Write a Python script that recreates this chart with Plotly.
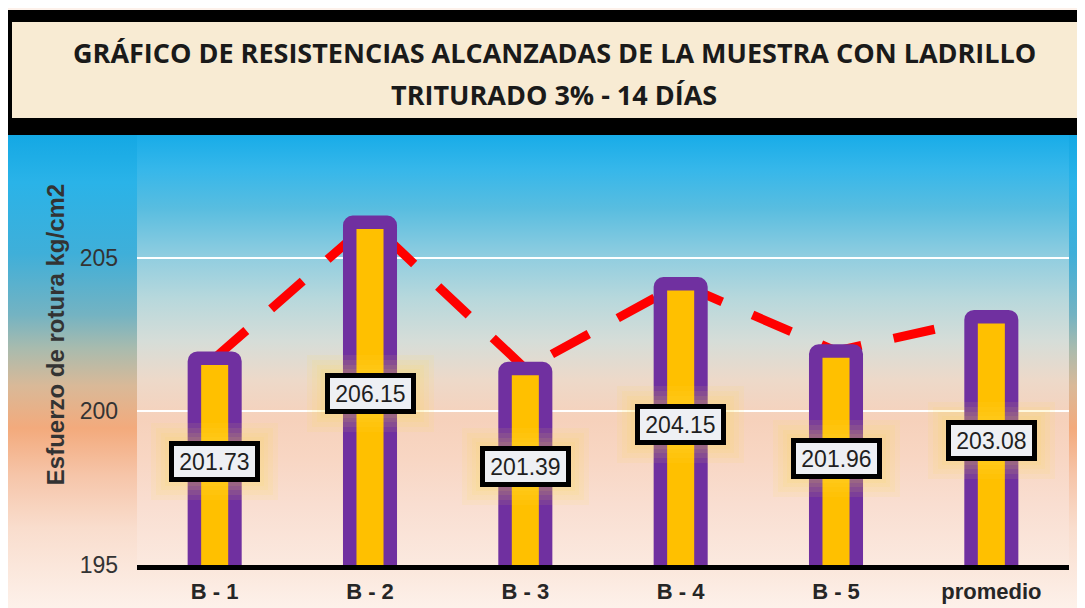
import base64
import plotly.graph_objects as go

# ---------------- data ----------------
categories = ["B - 1", "B - 2", "B - 3", "B - 4", "B - 5", "promedio"]
values = [201.73, 206.15, 201.39, 204.15, 201.96, 203.08]
y_ticks = [195, 200, 205]
y_min, y_max = 195, 210

title_line1 = "GRÁFICO DE RESISTENCIAS ALCANZADAS DE LA MUESTRA CON LADRILLO"
title_line2 = "TRITURADO 3% - 14 DÍAS"
y_title = "Esfuerzo de rotura kg/cm2"

# ---------------- geometry helpers ----------------
# the page body adds an offset; layout is designed in window pixels and shifted
OX, OY = 8, 8
W, H = 1085 - OX, 608 - OY
ML, MR, MT, MB = 137 - OX, 16, 104 - OY, 43
PW, PH = W - ML - MR, H - MT - MB


def px(x):
    """window pixel x -> paper x"""
    return (x - OX - ML) / PW


def py(y):
    """window pixel y -> paper y"""
    return (H - MB - (y - OY)) / PH


def gradient_uri(stops, w, h):
    st = "".join(f"<stop offset='{o}' stop-color='{c}'/>" for o, c in stops)
    svg = (f"<svg xmlns='http://www.w3.org/2000/svg' width='{w}' height='{h}' "
           f"viewBox='0 0 {w} {h}' preserveAspectRatio='none'>"
           f"<defs><linearGradient id='g' x1='0' y1='0' x2='0' y2='1'>{st}</linearGradient></defs>"
           f"<rect x='0' y='0' width='{w}' height='{h}' fill='url(#g)'/></svg>")
    return "data:image/svg+xml;base64," + base64.b64encode(svg.encode()).decode()


outer_stops = [(0.0, "#14A8E4"), (0.10, "#2AB3E8"), (0.25, "#3FAFD9"), (0.38, "#74B3C2"),
               (0.45, "#A8BBAE"), (0.53, "#D9B998"), (0.62, "#F3AA7C"), (0.72, "#F6C5A9"),
               (0.83, "#F9DDCD"), (1.0, "#FDF1EA")]
inner_stops = [(0.0, "#18ACE8"), (0.08, "#36B7EA"), (0.17, "#58BDE0"), (0.28, "#8FCDE0"),
               (0.38, "#B7D8DC"), (0.48, "#D6DDD8"), (0.57, "#EDD9C9"), (0.66, "#F6D1BB"),
               (0.75, "#F8D6C3"), (0.86, "#F9DED1"), (1.0, "#FBE9DF")]

fig = go.Figure()

# dashed line (drawn under the bars)
fig.add_trace(go.Scatter(
    x=categories, y=values, mode="lines", yaxis="y",
    line=dict(color="#FF0000", width=9, dash="42px,33px"),
    hoverinfo="skip", showlegend=False))

# bars on an overlaid axis so they sit above the line
fig.add_trace(go.Bar(
    x=categories, y=values, yaxis="y2", width=0.261,
    marker=dict(color="#FFC000", line=dict(color="#7030A0", width=13.5), cornerradius=3),
    showlegend=False))

annotations = []
# soft yellow glow behind the value labels
for c, v in zip(categories, values):
    for g in (18, 13, 8, 4):
        annotations.append(dict(
            x=c, y=(y_min + v) / 2, xref="x", yref="y", text=" ", showarrow=False,
            bgcolor="rgba(255,225,80,0.09)", borderwidth=0, borderpad=0,
            width=91 + 2 * g, height=41 + 2 * g))
for c, v in zip(categories, values):
    annotations.append(dict(
        x=c, y=(y_min + v) / 2, xref="x", yref="y", text=f"{v:.2f}", showarrow=False,
        font=dict(family="Liberation Sans, Arial", size=23, color="#1F1F1F"),
        bgcolor="#EEF0F4", bordercolor="#000000", borderwidth=5, borderpad=2,
        width=77, height=27))

annotations.append(dict(x=px(554), y=py(53), xref="paper", yref="paper", text=title_line1,
                        showarrow=False, xanchor="center", yanchor="middle",
                        font=dict(family="Open Sans", size=27, color="#1A1A1A", weight="bold")))
annotations.append(dict(x=px(554), y=py(95), xref="paper", yref="paper", text=title_line2,
                        showarrow=False, xanchor="center", yanchor="middle",
                        font=dict(family="Open Sans", size=27, color="#1A1A1A", weight="bold")))

shapes = [
    dict(type="rect", xref="paper", yref="paper", x0=px(5), x1=px(1100), y0=py(135), y1=py(10),
         fillcolor="#000000", line=dict(width=0), layer="above"),
    dict(type="rect", xref="paper", yref="paper", x0=px(12), x1=px(1100), y0=py(118), y1=py(22),
         fillcolor="#F8EBD3", line=dict(width=0), layer="above"),
]

images = [
    dict(source=gradient_uri(outer_stops, 1085, 608 - 135), xref="paper", yref="paper",
         x=px(0), y=py(135), sizex=1100 / PW, sizey=(608 - 135) / PH, sizing="stretch",
         xanchor="left", yanchor="top", layer="below"),
    dict(source=gradient_uri(inner_stops, PW, 565 - 135), xref="paper", yref="paper",
         x=0, y=py(135), sizex=1, sizey=(565 - 135) / PH, sizing="stretch",
         xanchor="left", yanchor="top", layer="below"),
]

fig.update_layout(
    width=W, height=H,
    margin=dict(l=ML, r=MR, t=MT, b=MB, autoexpand=False),
    paper_bgcolor="#FDF1EA", plot_bgcolor="rgba(0,0,0,0)",
    bargap=0.5,
    xaxis=dict(type="category", showline=True, linecolor="#000000", linewidth=5,
               showgrid=False, ticks="", ticklabelstandoff=3, automargin=False,
               tickfont=dict(family="Liberation Sans, Arial", size=22, color="#262626", weight="bold")),
    yaxis=dict(range=[y_min, y_max], tickvals=y_ticks, showgrid=True, gridcolor="#FFFFFF",
               gridwidth=2, zeroline=False, showline=False, ticks="", ticklabelstandoff=18,
               automargin=False,
               tickfont=dict(family="Liberation Sans, Arial", size=23, color="#333333"),
               title=dict(text=y_title, standoff=8,
                          font=dict(family="Liberation Sans, Arial", size=24, color="#333333",
                                    weight="bold"))),
    yaxis2=dict(range=[y_min, y_max], overlaying="y", visible=False),
    annotations=annotations, shapes=shapes, images=images,
)

fig.write_html("out.html")
